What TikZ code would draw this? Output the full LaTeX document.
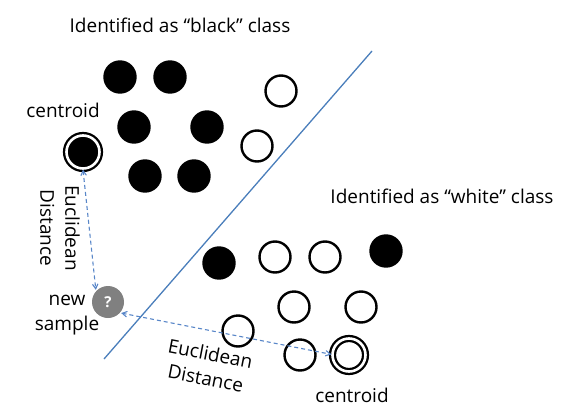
\documentclass[tikz,border=0pt]{standalone}
\usepackage{fontspec}
\setmainfont{Open Sans}
\usetikzlibrary{arrows}
\usetikzlibrary{positioning}
\definecolor{sepblue}{RGB}{74,126,187}
\definecolor{arrblue}{RGB}{88,134,200}
\definecolor{qgray}{RGB}{128,128,128}

\begin{document}
\begin{tikzpicture}[x=1pt,y=-1pt,font=\fontsize{19}{25}\selectfont,
  every node/.style={circle,draw,line width=2.4pt,minimum size=31pt,inner sep=0pt},
  blk/.style={fill=black},
  wht/.style={fill=white},
  cen/.style={double=white,double distance=2.6pt,line width=2.3pt,minimum size=33pt},
  txt/.style={draw=none,rectangle,minimum size=0pt,inner sep=1pt,align=center},
  dist/.style={draw=arrblue,line width=1.1pt,dash pattern=on 4pt off 3pt,angle 60-angle 60}]
  \useasboundingbox (0,0) rectangle (572,412);
  % black class
  \node[blk] (b1) at (120,77){};
  \node[blk] (b2) at (170,77){};
  \node[blk] (b3) at (134,127){};
  \node[blk] (b4) at (207,127){};
  \node[blk] (b5) at (145,176){};
  \node[blk] (b6) at (194,176){};
  \node[wht] (w1) at (281,91){};
  \node[wht] (w2) at (257,146){};
  \node[cen,fill=black] (c1) at (83,152){};
  % white class
  \node[blk] (b7) at (219,263){};
  \node[wht] (w3) at (275,257){};
  \node[wht] (w4) at (325,257){};
  \node[blk] (b8) at (386,251){};
  \node[wht] (w5) at (294,307){};
  \node[wht] (w6) at (361,307){};
  \node[wht] (w7) at (238,331){};
  \node[wht] (w8) at (300,355){};
  \node[cen,fill=white] (c2) at (349,355){};
  % new sample
  \node[draw=none,fill=qgray,minimum size=32pt,text=white,font=\bfseries\fontsize{15}{15}\selectfont] (q) at (108,302){?};
  % separator
  \coordinate (s1) at (372,51);
  \coordinate (s2) at (104,359);
  \draw[sepblue,line width=1.3pt] (s1)--(s2);
  % distances
  \draw[dist](c1.south)--(q.north west);
  \draw[dist](q.-40)--(c2.178);
  % texts
  \node[txt] (t1) at (180,25){Identified as “black” class};
  \node[txt] (t2) at (442,196){Identified as “white” class};
  \node[txt] (l1) at (63,110){centroid};
  \node[txt] (l2) at (352,395){centroid};
  \node[txt] (l3) at (67,315){new\\sample};
  \node[txt,rotate=-90] (d1) at (60,228){Euclidean\\Distance};
  \node[txt,rotate=-11] (d2) at (208,366){Euclidean\\Distance};
\end{tikzpicture}
\end{document}
